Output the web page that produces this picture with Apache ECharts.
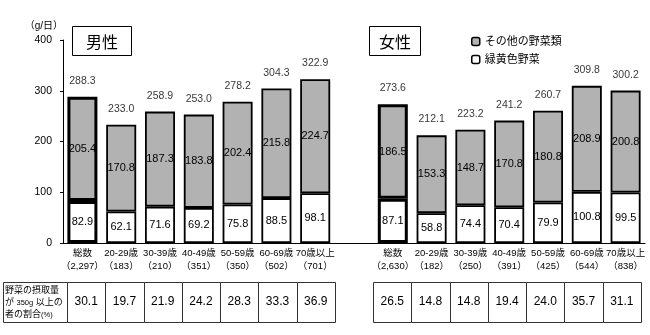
<!DOCTYPE html>
<html>
<head>
<meta charset="utf-8">
<script src="https://cdn.jsdelivr.net/npm/echarts@6/dist/echarts.min.js"></script>
<style>
html,body{margin:0;padding:0;background:#fff;}
#c{width:650px;height:335px;}
</style>
</head>
<body>
<div id="c"></div>
<script>
// Vegetable intake (g/day) by sex and age group
const ageGroups    = ['総数', '20-29歳', '30-39歳', '40-49歳', '50-59歳', '60-69歳', '70歳以上'];
const maleCounts   = ['2,297', '183', '210', '351', '350', '502', '701'];
const femaleCounts = ['2,630', '182', '250', '391', '425', '544', '838'];

const maleGreen   = [82.9, 62.1, 71.6, 69.2, 75.8, 88.5, 98.1];
const maleOther   = [205.4, 170.8, 187.3, 183.8, 202.4, 215.8, 224.7];
const maleTotal   = [288.3, 233.0, 258.9, 253.0, 278.2, 304.3, 322.9];

const femaleGreen = [87.1, 58.8, 74.4, 70.4, 79.9, 100.8, 99.5];
const femaleOther = [186.5, 153.3, 148.7, 170.8, 180.8, 208.9, 200.8];
const femaleTotal = [273.6, 212.1, 223.2, 241.2, 260.7, 309.8, 300.2];

// share of people eating 350 g or more (%)
const malePct   = [30.1, 19.7, 21.9, 24.2, 28.3, 33.3, 36.9];
const femalePct = [26.5, 14.8, 14.8, 19.4, 24.0, 35.7, 31.1];

const yTicks = [0, 100, 200, 300, 400];

const FONT = '"Liberation Sans", Arial, "Noto Sans CJK JP", sans-serif';
const GRAY = '#b2b2b2';

// male block, one empty slot, female block
const joinSexes = (m, f, gap) => [...m, gap, ...f];
const catLabel = (counts) => ageGroups.map((g, i) => g + '\n（' + counts[i] + '）');
const categories = joinSexes(catLabel(maleCounts), catLabel(femaleCounts), '');
const overallIdx = [0, ageGroups.length + 1];

const barData = (m, f) => joinSexes(m, f, '-').map((v, i) =>
  v === '-' ? '-' : { value: v, itemStyle: { borderWidth: overallIdx.includes(i) ? 3 : 1.8 } });

const tableData = [
  ...malePct.map((v, i) => [i, v]),
  ...femalePct.map((v, i) => [ageGroups.length + 1 + i, v])
];

const valueLabel = {
  show: true, position: 'inside', color: '#000', fontSize: 11, fontFamily: FONT,
  formatter: p => Number(p.value).toFixed(1)
};

function renderCell(params, api) {
  const cs = params.coordSys;
  const cx = api.coord([api.value(0), 0])[0];
  const w = api.size([1, 0])[0];
  const x0 = Math.round(cx - w / 2) + 0.5;
  const x1 = Math.round(cx + w / 2) + 0.5;
  return {
    type: 'group',
    children: [
      { type: 'rect',
        shape: { x: x0, y: Math.round(cs.y) + 0.5, width: x1 - x0, height: Math.round(cs.height) },
        style: { fill: '#fff', stroke: '#333', lineWidth: 1 } },
      { type: 'text',
        style: { text: api.value(1).toFixed(1), x: cx, y: cs.y + cs.height / 2,
                 align: 'center', verticalAlign: 'middle',
                 fontSize: 12, fontFamily: FONT, fill: '#000' } }
    ]
  };
}

const chart = echarts.init(document.getElementById('c'), null, { renderer: 'canvas' });
chart.setOption({
  animation: false,
  textStyle: { fontFamily: FONT, color: '#000' },
  legend: {
    data: ['その他の野菜類', '緑黄色野菜'],
    orient: 'vertical', left: 466, top: 31,
    itemWidth: 8, itemHeight: 8, itemGap: 7,
    itemStyle: { borderWidth: 1.5, borderColor: '#000' },
    textStyle: { fontSize: 11, color: '#000', fontFamily: FONT }
  },
  grid: [
    { left: 63, right: 5, top: 40, bottom: 92 },
    { left: 67, right: 9, top: 282, height: 40 }
  ],
  xAxis: [
    { type: 'category', gridIndex: 0, data: categories,
      axisLine: { lineStyle: { color: '#000', width: 1 } },
      axisTick: { interval: 0, length: 4, lineStyle: { color: '#000' } },
      axisLabel: { interval: 0, color: '#000', fontSize: 9.5, lineHeight: 13, margin: 4, fontFamily: FONT } },
    { type: 'category', gridIndex: 1, data: categories, show: false }
  ],
  yAxis: [
    { type: 'value', gridIndex: 0,
      min: yTicks[0], max: yTicks[yTicks.length - 1], interval: yTicks[1] - yTicks[0],
      name: '（g/日）', nameLocation: 'end', nameGap: 9,
      nameTextStyle: { align: 'right', verticalAlign: 'bottom', fontSize: 10, color: '#000' },
      axisLine: { show: true, lineStyle: { color: '#000', width: 1 } },
      axisTick: { show: true, length: 3, lineStyle: { color: '#000' } },
      axisLabel: { color: '#000', fontSize: 10.5, margin: 11, fontFamily: FONT },
      splitLine: { show: false } },
    { type: 'value', gridIndex: 1, show: false, min: 0, max: 100 }
  ],
  graphic: [
    { type: 'group', left: 72, top: 26, children: [
      { type: 'rect', shape: { x: 0.5, y: 0.5, width: 59, height: 29 }, style: { fill: '#fff', stroke: '#000', lineWidth: 1 } },
      { type: 'text', style: { text: '男性', x: 30, y: 15.5, align: 'center', verticalAlign: 'middle', fontSize: 16, fontFamily: '"Noto Sans CJK JP"', fill: '#000' } }
    ]},
    { type: 'group', left: 369, top: 26, children: [
      { type: 'rect', shape: { x: 0.5, y: 0.5, width: 51, height: 29 }, style: { fill: '#fff', stroke: '#000', lineWidth: 1 } },
      { type: 'text', style: { text: '女性', x: 26, y: 15.5, align: 'center', verticalAlign: 'middle', fontSize: 16, fontFamily: '"Noto Sans CJK JP"', fill: '#000' } }
    ]},
    { type: 'group', left: 3, top: 282, children: [
      { type: 'rect', shape: { x: 0.5, y: 0.5, width: 64, height: 40 }, style: { fill: '#fff', stroke: '#333', lineWidth: 1 } },
      { type: 'text', style: {
          text: '{a|野菜の摂取量}\n{a|が }{b|350g}{a| 以上の}\n{a|者の割合}{b|(%)}',
          x: 2, y: 21, align: 'left', verticalAlign: 'middle',
          fontFamily: FONT, fill: '#000',
          rich: {
            a: { fontSize: 9, lineHeight: 12, fontFamily: FONT, fill: '#000' },
            b: { fontSize: 7.5, lineHeight: 12, fontFamily: FONT, fill: '#000' }
          } } }
    ]}
  ],
  series: [
    { name: '緑黄色野菜', type: 'bar', stack: 'veg', xAxisIndex: 0, yAxisIndex: 0,
      barWidth: 30,
      data: barData(maleGreen, femaleGreen),
      itemStyle: { color: '#fff', borderColor: '#000', borderWidth: 1.8 },
      label: valueLabel },
    { name: 'その他の野菜類', type: 'bar', stack: 'veg', xAxisIndex: 0, yAxisIndex: 0,
      barWidth: 30,
      data: barData(maleOther, femaleOther),
      itemStyle: { color: GRAY, borderColor: '#000', borderWidth: 1.8 },
      label: valueLabel },
    { name: '合計', type: 'scatter', xAxisIndex: 0, yAxisIndex: 0,
      data: joinSexes(maleTotal, femaleTotal, '-'),
      symbolSize: 1, itemStyle: { color: 'rgba(0,0,0,0)' }, silent: true,
      label: { show: true, position: 'top', distance: 10, color: '#000', fontSize: 10.5, fontFamily: FONT,
               formatter: p => Number(p.value).toFixed(1) } },
    { name: '割合', type: 'custom', xAxisIndex: 1, yAxisIndex: 1,
      data: tableData, renderItem: renderCell, silent: true }
  ]
});
</script>
</body>
</html>
